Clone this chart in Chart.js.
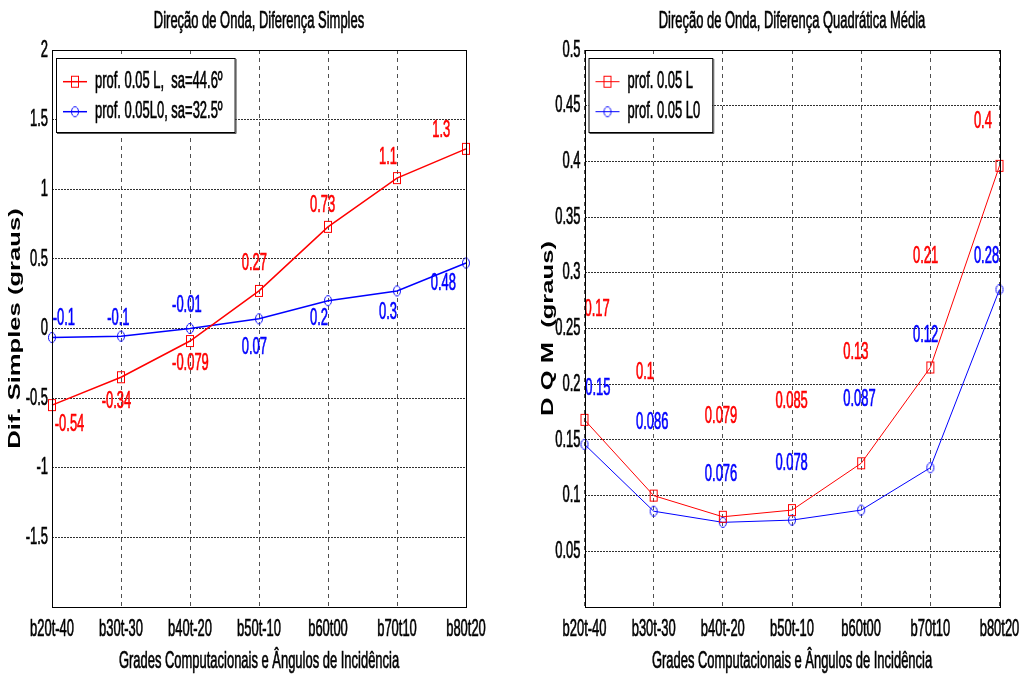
<!DOCTYPE html>
<html><head><meta charset="utf-8">
<script src="https://cdn.jsdelivr.net/npm/chart.js@4/dist/chart.umd.min.js"></script>
<style>
html,body{margin:0;padding:0;background:#fff;overflow:hidden}
#wrap{position:relative;width:1021px;height:676px;background:#fff}
canvas{position:absolute;top:0}
</style></head><body>
<div id="wrap">
<canvas id="c1" width="510" height="676" style="left:0"></canvas>
<canvas id="c2" width="511" height="676" style="left:510px"></canvas>
</div>
<script>
// ---------- data ----------
const categories = ['b20t-40','b30t-30','b40t-20','b50t-10','b60t00','b70t10','b80t20'];

const simplesL  = [-0.55, -0.35, -0.09, 0.27, 0.73, 1.08, 1.29];
const simplesL0 = [-0.065, -0.055, 0.0, 0.07, 0.20, 0.27, 0.47];
const simplesLabelsL  = ['-0.54','-0.34','-0.079','0.27','0.73','1.1','1.3'];
const simplesLabelsL0 = ['-0.1','-0.1','-0.01','0.07','0.2','0.3','0.48'];
// annotation anchors in data coordinates (category index, value)
const simplesAnchorXL  = [0.04, 0.72, 1.74, 2.75, 3.74, 4.74, 5.51];
const simplesAnchorYL  = [-0.686, -0.52, -0.247, 0.465, 0.883, 1.228, 1.423];
const simplesAnchorXL0 = [0.01, 0.80, 1.74, 2.75, 3.74, 4.74, 5.49];
const simplesAnchorYL0 = [0.07, 0.07, 0.163, -0.139, 0.07, 0.113, 0.322];

const dqmL  = [0.168, 0.100, 0.081, 0.087, 0.129, 0.215, 0.396];
const dqmL0 = [0.146, 0.086, 0.076, 0.078, 0.087, 0.125, 0.285];
const dqmLabelsL  = ['0.17','0.1','0.079','0.085','0.13','0.21','0.4'];
const dqmLabelsL0 = ['0.15','0.086','0.076','0.078','0.087','0.12','0.28'];
const dqmAnchorXL  = [0.0, 0.745, 1.74, 2.76, 3.74, 4.75, 5.63];
const dqmAnchorYL  = [0.267, 0.211, 0.171, 0.185, 0.229, 0.315, 0.436];
const dqmAnchorXL0 = [0.01, 0.745, 1.74, 2.76, 3.74, 4.75, 5.63];
const dqmAnchorYL0 = [0.196, 0.166, 0.119, 0.129, 0.186, 0.244, 0.315];

const simplesTitle = 'Direção de Onda, Diferença Simples';
const dqmTitle = 'Direção de Onda, Diferença Quadrática Média';
const xTitle = 'Grades Computacionais e Ângulos de Incidência';
const simplesYTitle = 'Dif. Simples (graus)';
const dqmYTitle = 'D Q M  (graus)';
const simplesNames = ['prof. 0.05 L,  sa=44.6º', 'prof. 0.05L0, sa=32.5º'];
const dqmNames = ['prof. 0.05 L', 'prof. 0.05 L0'];

// ---------- drawing helpers ----------
const FONT = '"Liberation Sans", Arial, Helvetica, sans-serif';
const FS = 24, SX = 0.54;
const RED = '#ff0000', BLUE = '#0000ff';

function ctext(ctx, str, x, y, o) {
  o = o || {};
  ctx.save();
  ctx.font = (o.bold ? 'bold ' : '') + (o.size || FS) + 'px ' + FONT;
  ctx.fillStyle = o.color || '#000';
  ctx.strokeStyle = o.color || '#000';
  ctx.textBaseline = 'middle';
  ctx.textAlign = o.align || 'center';
  ctx.translate(x, y);
  if (o.rotate) ctx.rotate(o.rotate);
  ctx.scale(o.sx || SX, 1);
  ctx.fillText(str, 0, 0);
  if (!o.bold) { ctx.lineWidth = 0.7; ctx.strokeText(str, 0, 0); }
  ctx.restore();
}
function textW(ctx, str, o) {
  o = o || {};
  ctx.save();
  ctx.font = (o.bold ? 'bold ' : '') + (o.size || FS) + 'px ' + FONT;
  const w = ctx.measureText(str).width * (o.sx || SX);
  ctx.restore();
  return w;
}
function marker(shape, color, w, h, lw) {
  const c = document.createElement('canvas');
  c.width = w + 2; c.height = h + 2;
  const g = c.getContext('2d');
  g.strokeStyle = color; g.lineWidth = lw;
  if (shape === 'square') {
    g.strokeRect(1.5, 1.5, w - 1, h - 1);
  } else {
    g.beginPath();
    g.ellipse((w + 2) / 2, (h + 2) / 2, w / 2 - 0.5, h / 2 - 0.5, 0, 0, Math.PI * 2);
    g.stroke();
  }
  return c;
}
function fmt(v) { return String(parseFloat(v.toFixed(3))); }

const matlabPlugin = {
  id: 'matlab',
  afterDraw(chart) {
    const cfg = chart.options.plugins.matlab;
    const ctx = chart.ctx;
    const ca = chart.chartArea;
    const xs = chart.scales.x, ys = chart.scales.y;
    const cx = (ca.left + ca.right) / 2;

    // data labels
    chart.data.datasets.forEach((ds, di) => {
      const ann = cfg.annotations[di];
      ann.text.forEach((t, i) => {
        ctext(ctx, t, xs.getPixelForValue(ann.x[i]), ys.getPixelForValue(ann.y[i]),
              {color: ds.borderColor, align: 'left'});
      });
    });

    // axes box
    ctx.save();
    ctx.strokeStyle = '#000'; ctx.lineWidth = 1;
    ctx.strokeRect(Math.round(ca.left) + 0.5, Math.round(ca.top) + 0.5,
                   Math.round(ca.right) - Math.round(ca.left), Math.round(ca.bottom) - Math.round(ca.top));
    ctx.restore();

    // title
    ctext(ctx, cfg.title, cx, 21.7);
    // x tick labels
    chart.data.labels.forEach((lab, i) => ctext(ctx, lab, xs.getPixelForValue(i), ca.bottom + 22.5));
    // y tick labels
    ys.ticks.forEach(t => {
      if (Math.abs(t.value - ys.min) < 1e-9) return;
      ctext(ctx, fmt(t.value), ca.left - 4, ys.getPixelForValue(t.value), {align: 'right'});
    });
    // x title
    ctext(ctx, cfg.xTitle, cx, ca.bottom + 54.5);
    // y title
    ctext(ctx, cfg.yTitle, ca.left - 36, (ca.top + ca.bottom) / 2,
          {bold: true, size: 16, sx: 1.6, rotate: -Math.PI / 2});

    // legend
    const lx = ca.left + 4, ly = ca.top + 8;
    let maxW = 0;
    chart.data.datasets.forEach(ds => { maxW = Math.max(maxW, textW(ctx, ds.label)); });
    const bw = 43 + maxW + 8, bh = 74;
    ctx.save();
    ctx.fillStyle = '#fff';
    ctx.fillRect(lx, ly, bw, bh);
    ctx.strokeStyle = '#000'; ctx.lineWidth = 1;
    ctx.strokeRect(lx + 0.5, ly + 0.5, bw, bh);
    ctx.strokeStyle = '#555'; ctx.lineWidth = 1;
    ctx.beginPath();
    ctx.moveTo(lx + bw + 1.5, ly + 1); ctx.lineTo(lx + bw + 1.5, ly + bh + 1.5); ctx.lineTo(lx + 1, ly + bh + 1.5);
    ctx.stroke();
    chart.data.datasets.forEach((ds, di) => {
      const ry = ly + 23.7 + di * 30;
      ctx.strokeStyle = ds.borderColor; ctx.lineWidth = ds.borderWidth;
      ctx.beginPath(); ctx.moveTo(lx + 7, ry); ctx.lineTo(lx + 31, ry); ctx.stroke();
      const m = ds.pointStyle;
      ctx.drawImage(m, lx + 19 - m.width / 2, ry - m.height / 2);
      ctext(ctx, ds.label, lx + 39, ry, {align: 'left'});
    });
    ctx.restore();
  }
};

function makeChart(id, cfg) {
  return new Chart(document.getElementById(id), {
    type: 'line',
    data: {
      labels: categories,
      datasets: cfg.series.map(s => ({
        label: s.label, data: s.data,
        borderColor: s.color, backgroundColor: s.color,
        borderWidth: cfg.lw, pointStyle: s.marker,
        pointRadius: 6, pointHoverRadius: 6,
        tension: 0, fill: false, clip: false
      }))
    },
    options: {
      responsive: false, animation: false, events: [],
      layout: {padding: cfg.padding},
      plugins: {legend: {display: false}, tooltip: {enabled: false}, title: {display: false}, matlab: cfg},
      scales: {
        x: {
          type: 'category', offset: false,
          grid: {color: '#505050', lineWidth: 1, drawTicks: false},
          border: {display: false, dash: [4, 4]},
          ticks: {display: false}
        },
        y: {
          min: cfg.yMin, max: cfg.yMax,
          ticks: {display: false, stepSize: cfg.yStep},
          grid: {color: '#303030', lineWidth: 1, drawTicks: false},
          border: {display: false, dash: [2, 1]}
        }
      }
    },
    plugins: [matlabPlugin]
  });
}

makeChart('c1', {
  title: simplesTitle, xTitle: xTitle, yTitle: simplesYTitle,
  yMin: -2, yMax: 2, yStep: 0.5, lw: 1.5,
  padding: {left: 52, right: 44, top: 50, bottom: 69},
  series: [
    {label: simplesNames[0], data: simplesL, color: RED, marker: marker('square', RED, 8, 12, 1)},
    {label: simplesNames[1], data: simplesL0, color: BLUE, marker: marker('circle', BLUE, 8, 11, 1)}
  ],
  annotations: [
    {text: simplesLabelsL, x: simplesAnchorXL, y: simplesAnchorYL},
    {text: simplesLabelsL0, x: simplesAnchorXL0, y: simplesAnchorYL0}
  ]
});

makeChart('c2', {
  title: dqmTitle, xTitle: xTitle, yTitle: dqmYTitle,
  yMin: 0, yMax: 0.5, yStep: 0.05, lw: 1,
  padding: {left: 74.5, right: 21.5, top: 50, bottom: 69},
  series: [
    {label: dqmNames[0], data: dqmL, color: RED, marker: marker('square', RED, 8, 12, 1)},
    {label: dqmNames[1], data: dqmL0, color: BLUE, marker: marker('circle', BLUE, 8, 11, 1)}
  ],
  annotations: [
    {text: dqmLabelsL, x: dqmAnchorXL, y: dqmAnchorYL},
    {text: dqmLabelsL0, x: dqmAnchorXL0, y: dqmAnchorYL0}
  ]
});
</script>
</body></html>
